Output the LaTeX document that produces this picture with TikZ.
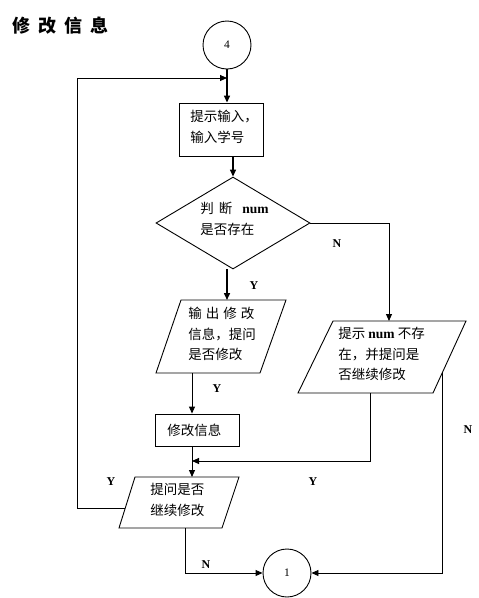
\documentclass[tikz,border=0pt]{standalone}
\usepackage{fontspec}
\setmainfont{Liberation Serif}
\newfontfamily\lat{Liberation Serif}
\newfontfamily\cjk{Noto Sans CJK SC}
\usetikzlibrary{arrows.meta,shapes.geometric}
\begin{document}
\begin{tikzpicture}[x=1pt,y=-1pt,line width=0.9pt,
  arr/.style={-{Triangle[length=7pt,width=6pt]}},
  thk/.style={line width=1.5pt},
  txt/.style={font=\cjk\fontsize{13.5}{20.5}\selectfont,align=left,anchor=north west,inner sep=0pt},
  lab/.style={font=\lat\bfseries\fontsize{12}{14}\selectfont,inner sep=0pt},
  conn/.style={draw,circle,minimum size=48pt,inner sep=0pt,font=\lat\fontsize{11.5}{13}\selectfont},
  boxn/.style={draw,inner sep=0pt}]
\useasboundingbox (0,0) rectangle (479,598);
\fill[white] (0,0) rectangle (479,598);

% title
\node[font=\cjk\bfseries\fontsize{18}{20}\selectfont,anchor=west,inner sep=0pt] (title) at (12,26)
  {修\hspace{8pt}改\hspace{8pt}信\hspace{8pt}息};

% connectors
\node[conn] (c4) at (227,45) {4};
\node[conn] (c1) at (287,573) {1};

% rectangle 1
\node[boxn,minimum width=84pt,minimum height=53pt] (r1) at (221,129.5) {};
\node[txt] (t1) at (190,110) {提示输入，\\输入学号};

% diamond
\node[draw,shape=diamond,minimum width=154pt,minimum height=92pt,inner sep=0pt] (d) at (233,223) {};
\node[txt] (td) at (200,202) {判\hspace{5pt}断\hspace{10pt}{\lat\bfseries num}\\是否存在};

% parallelogram 1
\coordinate (p1a) at (181,300); \coordinate (p1b) at (286,300);
\coordinate (p1c) at (260,373); \coordinate (p1d) at (156,373);
\draw (p1a) -- (p1b) -- (p1c) -- (p1d) -- cycle;
\node[txt] (tp1) at (188,307) {输\hspace{4pt}出\hspace{4pt}修\hspace{4pt}改\\信息，提问\\是否修改};

% parallelogram 2
\coordinate (p2a) at (333,321); \coordinate (p2b) at (466,321);
\coordinate (p2c) at (433,393); \coordinate (p2d) at (298,393);
\draw (p2a) -- (p2b) -- (p2c) -- (p2d) -- cycle;
\node[txt] (tp2) at (338,327) {提示 {\lat\bfseries num} 不存\\在，并提问是\\否继续修改};

% rectangle 2
\node[boxn,minimum width=84pt,minimum height=32pt] (r2) at (197,430) {};
\node[txt,anchor=west] (t2) at (167,430) {修改信息};

% parallelogram 3
\coordinate (p3a) at (135,477); \coordinate (p3b) at (239,477);
\coordinate (p3c) at (222,528); \coordinate (p3d) at (119,528);
\draw (p3a) -- (p3b) -- (p3c) -- (p3d) -- cycle;
\node[txt] (tp3) at (150,483) {提问是否\\继续修改};

% helper coordinates
\coordinate (loopin) at (227,78);
\coordinate (p1in) at (227,300);
\coordinate (p2in) at (389,321);
\coordinate (p1out) at (192,373);
\coordinate (p2out) at (370,393);
\coordinate (merge) at (192,461);
\coordinate (p3in) at (192,477);
\coordinate (p3left) at (125,508);
\coordinate (p3out) at (185,528);
\coordinate (p2right) at (442,373);

% connectors
\draw[arr,thk] (c4.south) -- (c4.south |- r1.north);
\draw[arr,thk] (d.north |- r1.south) -- (d.north);
\draw[arr] (d.east) -- (d.east -| p2in) -- (p2in);
\draw[arr,thk] (p1in |- d.south) -- (p1in);
\draw[arr] (p1out) -- (p1out |- r2.north);
\draw[arr] (p1out |- r2.south) -- (p3in);
\draw[arr] (p2out) -- (p2out |- merge) -- (merge);
\draw[arr] (p3left) -- (77,508) -- (77,78) -- (loopin);
\draw[arr] (p3out) -- (p3out |- c1.west) -- (c1.west);
\draw[arr] (p2right) -- (p2right |- c1.east) -- (c1.east);

% labels
\node[lab] (ly1) at (254,286) {Y};
\node[lab] (ln1) at (337,244) {N};
\node[lab] (ly2) at (217,389) {Y};
\node[lab] (ln2) at (468,430) {N};
\node[lab] (ly3) at (111,482) {Y};
\node[lab] (ly4) at (313,482) {Y};
\node[lab] (ln3) at (206,565) {N};
\end{tikzpicture}
\end{document}
